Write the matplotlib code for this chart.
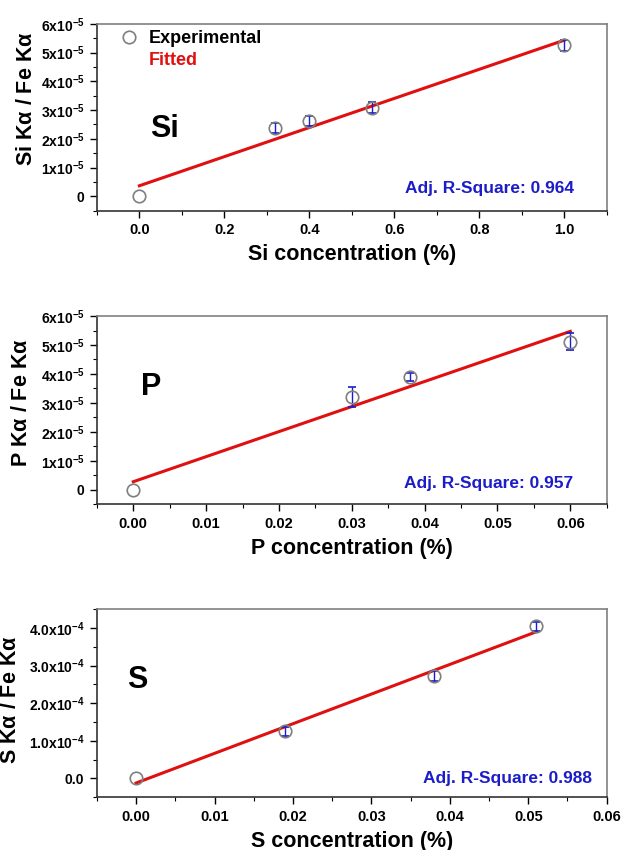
import numpy as np
import matplotlib
matplotlib.use("Agg")
import matplotlib.pyplot as plt
from matplotlib.lines import Line2D
from matplotlib.ticker import MultipleLocator, FuncFormatter

plt.rcParams['font.family'] = ['Liberation Sans', 'DejaVu Sans']
plt.rcParams['font.weight'] = 'bold'
plt.rcParams['mathtext.default'] = 'regular'

# Si panel
si_x = [0.0, 0.32, 0.40, 0.547, 1.0]
si_y = [0.0, 2.37e-5, 2.63e-5, 3.09e-5, 5.25e-5]
si_err = [0.0, 0.18e-5, 0.18e-5, 0.18e-5, 0.2e-5]
si_fit_x = [0.0, 1.0]
si_fit_y = [0.37e-5, 5.43e-5]

# P panel
p_x = [0.0, 0.030, 0.038, 0.060]
p_y = [0.0, 3.2e-5, 3.89e-5, 5.12e-5]
p_err = [0.0, 0.34e-5, 0.15e-5, 0.3e-5]
p_fit_x = [0.0, 0.06]
p_fit_y = [0.28e-5, 5.47e-5]

# S panel
s_x = [0.0, 0.019, 0.038, 0.051]
s_y = [0.0, 1.256e-4, 2.73e-4, 4.05e-4]
s_err = [0.0, 0.12e-4, 0.13e-4, 0.12e-4]
s_fit_x = [0.0, 0.051]
s_fit_y = [-0.12e-4, 3.9e-4]

BLUE = '#1c1cc8'
RED = '#e01010'
GRAY = '#7f7f7f'


def fmt_e5(v, pos):
    if abs(v) < 1e-12:
        return '0'
    return '%dx10$^{-5}$' % round(v / 1e-5)


def fmt_e4(v, pos):
    if abs(v) < 1e-12:
        return '0.0'
    return '%.1fx10$^{-4}$' % (v / 1e-4)


def panel(rect, x, y, err, fx, fy, xlim, ylim, xmaj, ymaj, xfmt, yfmt,
          xlabel, ylabel, tag, tag_pos, r2, r2_pos, ylab_xy):
    ax = fig.add_axes(rect)
    ax.plot(fx, fy, color=RED, lw=2.2, zorder=2)
    # only points that have an error bar
    xe = [a for a, e in zip(x, err) if e > 0]
    ye = [b for b, e in zip(y, err) if e > 0]
    ee = [e for e in err if e > 0]
    ax.errorbar(xe, ye, yerr=ee, fmt='none', ecolor=BLUE, elinewidth=1.0,
                capsize=3, capthick=1.2, zorder=3)
    ax.plot(x, y, 'o', ms=9, mfc='none', mec=GRAY, mew=1.2, zorder=4)
    ax.set_xlim(*xlim)
    ax.set_ylim(*ylim)
    ax.xaxis.set_major_locator(MultipleLocator(xmaj))
    ax.xaxis.set_minor_locator(MultipleLocator(xmaj / 2))
    ax.yaxis.set_major_locator(MultipleLocator(ymaj))
    ax.yaxis.set_minor_locator(MultipleLocator(ymaj / 2))
    ax.xaxis.set_major_formatter(FuncFormatter(xfmt))
    ax.yaxis.set_major_formatter(FuncFormatter(yfmt))
    ax.tick_params(which='major', direction='out', length=5, width=1.0,
                   labelsize=10, pad=4, top=False, right=False)
    ax.tick_params(axis='x', which='major', labelsize=10.5)
    ax.tick_params(which='minor', direction='out', length=3, width=0.8,
                   top=False, right=False)
    for sp in ['left', 'bottom']:
        ax.spines[sp].set_color('#333333')
        ax.spines[sp].set_linewidth(1.2)
    for sp in ['top', 'right']:
        ax.spines[sp].set_color('#808080')
        ax.spines[sp].set_linewidth(1.2)
    ax.set_xlabel(xlabel, fontsize=15.5, fontweight='bold', labelpad=5)
    ax.set_ylabel(ylabel, fontsize=15.5, fontweight='bold')
    ax.yaxis.set_label_coords(*ylab_xy)
    ax.text(tag_pos[0], tag_pos[1], tag, transform=ax.transAxes,
            fontsize=22, fontweight='bold', ha='left', va='center')
    ax.text(r2_pos[0], r2_pos[1], 'Adj. R-Square: ' + r2,
            transform=ax.transAxes, fontsize=12.5, fontweight='bold',
            color=BLUE, ha='right', va='baseline')
    return ax


fig = plt.figure(figsize=(6.21, 8.5), dpi=100)

ax1 = panel([0.156, 0.752, 0.821, 0.220], si_x, si_y, si_err,
            si_fit_x, si_fit_y, (-0.1, 1.1), (-0.5e-5, 6e-5), 0.2, 1e-5,
            lambda v, p: '%.1f' % v, fmt_e5,
            'Si concentration (%)', r'Si K$\alpha$ / Fe K$\alpha$',
            'Si', (0.105, 0.44), '0.964', (0.936, 0.095), (-0.118, 0.60))

handles = [Line2D([], [], marker='o', ls='none', ms=9, mfc='none',
                  mec=GRAY, mew=1.2),
           Line2D([], [], ls='none')]
leg = ax1.legend(handles, ['Experimental', 'Fitted'], loc='upper left',
                 bbox_to_anchor=(0.045, 0.965), frameon=False,
                 prop={'size': 13, 'weight': 'bold'}, handlelength=1.0,
                 handletextpad=0.6, labelspacing=0.25, borderpad=0,
                 borderaxespad=0)
leg.get_texts()[1].set_color(RED)

ax2 = panel([0.156, 0.4067, 0.821, 0.2215], p_x, p_y, p_err,
            p_fit_x, p_fit_y, (-0.005, 0.065), (-0.5e-5, 6e-5), 0.01, 1e-5,
            lambda v, p: '%.2f' % v, fmt_e5,
            'P concentration (%)', r'P K$\alpha$ / Fe K$\alpha$',
            'P', (0.086, 0.625), '0.957', (0.934, 0.085), (-0.128, 0.54))

ax3 = panel([0.156, 0.062, 0.821, 0.2212], s_x, s_y, s_err,
            s_fit_x, s_fit_y, (-0.005, 0.06), (-0.5e-4, 4.5e-4), 0.01, 1e-4,
            lambda v, p: '%.2f' % v, fmt_e4,
            'S concentration (%)', r'S K$\alpha$ / Fe K$\alpha$',
            'S', (0.06, 0.624), '0.988', (0.971, 0.078), (-0.148, 0.52))

fig.savefig('out.png', dpi=100)
